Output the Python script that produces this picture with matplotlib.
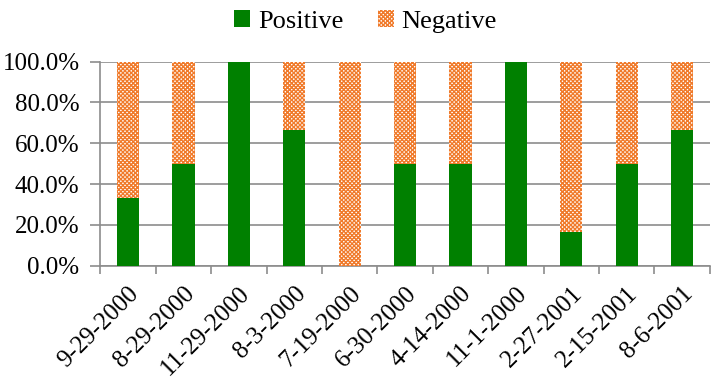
import matplotlib.pyplot as plt
import numpy as np

dates = ["9-29-2000", "8-29-2000", "11-29-2000", "8-3-2000", "7-19-2000",
         "6-30-2000", "4-14-2000", "11-1-2000", "2-27-2001", "2-15-2001", "8-6-2001"]
positive = [33.3, 50.0, 100.0, 66.7, 0.0, 50.0, 50.0, 100.0, 16.7, 50.0, 66.7]
negative = [100 - p for p in positive]

plt.rcParams["font.family"] = "serif"
plt.rcParams["font.serif"] = ["Liberation Serif", "Times New Roman", "DejaVu Serif"]
plt.rcParams["hatch.linewidth"] = 1.0

fig = plt.figure(figsize=(7.17, 3.85), dpi=100)
ax = fig.add_axes([0.14, 0.31, 0.85, 0.53])

x = np.arange(len(dates))
ax.bar(x, positive, width=0.4, color="#008000", label="Positive", zorder=3)
ax.bar(x, negative, width=0.4, bottom=positive, color="white",
       edgecolor="#f07a2a", hatch="xxxxxxxx", linewidth=0, label="Negative", zorder=3)

ax.set_xlim(-0.5, len(dates) - 0.5)
ax.set_ylim(0, 100)
ax.set_yticks(np.arange(0, 101, 20))
ax.set_yticklabels([f"{v:.1f}%" for v in range(0, 101, 20)], fontsize=18)
ax.yaxis.grid(True, color="#8c8c8c", linewidth=1.2, zorder=0)

ax.set_xticks(x)
ax.set_xticklabels(dates, rotation=45, ha="right", rotation_mode="anchor", fontsize=18)
ax.tick_params(axis="x", length=0, pad=12)
ax.set_xticks(np.arange(-0.5, len(dates), 1), minor=True)
ax.tick_params(axis="x", which="minor", length=6, color="#8c8c8c", width=1.2)
ax.tick_params(axis="y", length=7, color="#8c8c8c", width=1.2, pad=8)

for side in ["top", "right"]:
    ax.spines[side].set_visible(False)
for side in ["left", "bottom"]:
    ax.spines[side].set_color("#8c8c8c")
    ax.spines[side].set_linewidth(1.2)

fig.legend(loc="upper center", bbox_to_anchor=(0.51, 1.035), ncol=2, frameon=False,
           fontsize=19, handlelength=0.6, handleheight=0.6, columnspacing=1.3,
           handletextpad=0.3)

fig.savefig("out.png", dpi=100)
